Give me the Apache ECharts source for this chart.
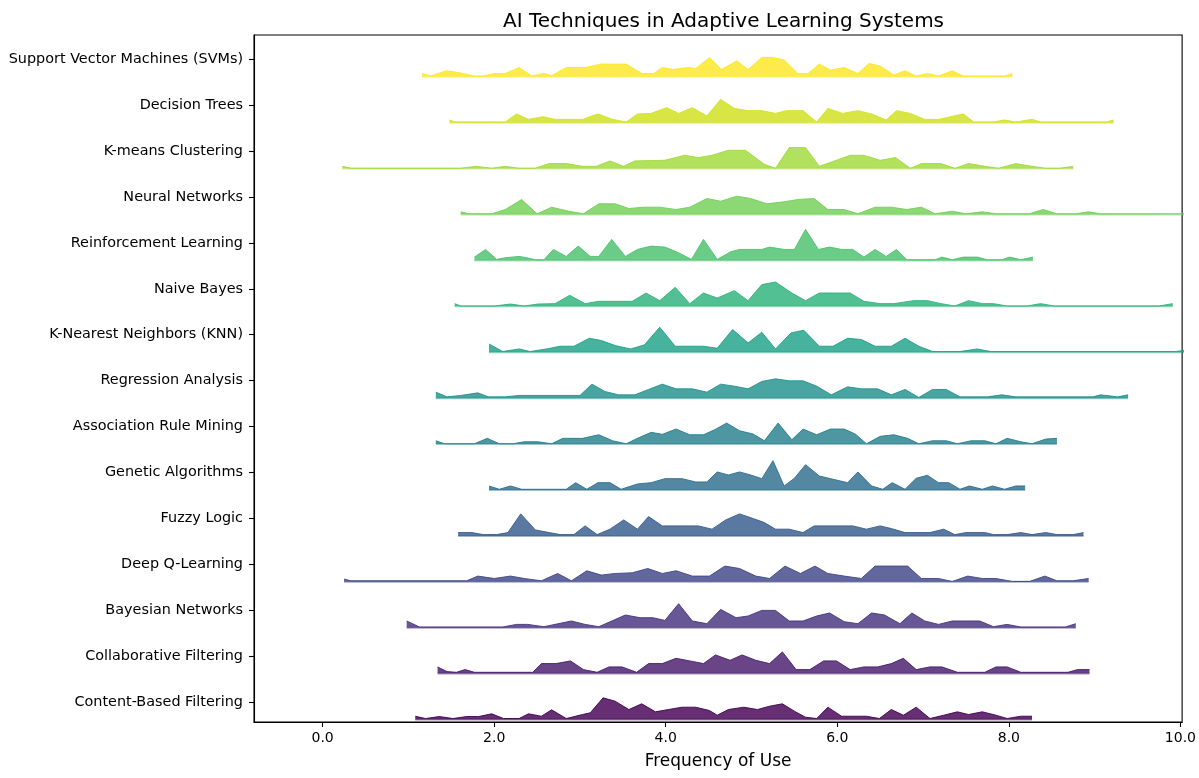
<!DOCTYPE html>
<html>
<head>
<meta charset="utf-8">
<style>html,body{margin:0;padding:0;background:#fff}#c{width:1199px;height:778px}</style>
<script src="https://cdn.jsdelivr.net/npm/echarts@6/dist/echarts.min.js"></script>
</head>
<body>
<div id="c"></div>
<script>
// Categories, listed top to bottom as shown
const categories = ["Support Vector Machines (SVMs)","Decision Trees","K-means Clustering","Neural Networks","Reinforcement Learning","Naive Bayes","K-Nearest Neighbors (KNN)","Regression Analysis","Association Rule Mining","Genetic Algorithms","Fuzzy Logic","Deep Q-Learning","Bayesian Networks","Collaborative Filtering","Content-Based Filtering"];
const xTicks = [0, 2, 4, 6, 8, 10];

// [frequency of use, density] per technique
const svm = [[1.16,3.3],[1.26,0.7],[1.44,6],[1.58,4.3],[1.77,0.7],[1.87,0.7],[2.00,3.3],[2.13,3.3],[2.29,9.3],[2.44,0.7],[2.58,3.3],[2.67,1],[2.84,9.3],[3.06,9.3],[3.25,12.7],[3.54,12.7],[3.72,3.3],[3.86,3.3],[3.96,9.3],[4.09,7.3],[4.25,9.3],[4.35,8.3],[4.51,19.3],[4.65,7.3],[4.83,16],[4.96,7.3],[5.12,19.3],[5.25,19.3],[5.38,16.7],[5.54,3.3],[5.66,3.3],[5.79,12.7],[5.92,6.7],[6.08,9.3],[6.24,3.3],[6.37,13.3],[6.50,10.7],[6.66,1.7],[6.79,6],[6.92,0.7],[7.05,3.3],[7.18,0.7],[7.34,6],[7.47,0.7],[7.95,0.7],[8.04,3.3]];
const decisionTrees = [[1.48,2.7],[1.54,0.7],[2.13,0.7],[2.26,8.7],[2.40,3.3],[2.57,6],[2.71,3.3],[3.03,3.3],[3.21,8.7],[3.38,3.3],[3.54,0.7],[3.67,8.7],[3.83,9.3],[4.01,15],[4.15,9.3],[4.31,15],[4.48,6.7],[4.64,23.3],[4.80,14.3],[4.96,12],[5.12,12],[5.28,9.3],[5.41,12],[5.60,12],[5.76,0.7],[5.89,14.3],[6.06,9.3],[6.24,12],[6.40,8.7],[6.57,2.7],[6.69,12],[6.85,9.3],[7.02,3.3],[7.18,3.3],[7.47,8.7],[7.59,0.7],[7.82,0.7],[7.95,2.7],[8.08,0.7],[8.27,3.3],[8.37,0.7],[9.14,0.7],[9.22,2.7]];
const kmeans = [[0.23,2.3],[0.33,0.3],[1.61,0.3],[1.79,2.3],[1.97,0.3],[2.13,2.3],[2.29,0.3],[2.48,0.3],[2.64,5],[2.84,5],[3.03,2.3],[3.19,2.3],[3.35,7.7],[3.51,2.3],[3.64,7.7],[3.99,8.3],[4.22,13.3],[4.38,11],[4.54,13.3],[4.73,18.3],[4.93,18.3],[5.15,4.3],[5.28,0.3],[5.44,21],[5.63,21],[5.79,2.3],[5.99,8.3],[6.15,13.3],[6.31,13.3],[6.50,8.3],[6.68,11],[6.85,0.3],[6.98,5],[7.21,5],[7.37,0.3],[7.53,5],[7.72,2.3],[7.88,0.3],[8.08,5],[8.27,2.3],[8.43,0.3],[8.59,0.3],[8.75,2.3]];
const neuralNetworks = [[1.61,2.7],[1.71,0.7],[1.97,0.7],[2.13,5],[2.32,15],[2.50,0.7],[2.67,7.3],[2.87,3.3],[3.04,0.7],[3.22,10.7],[3.41,10.7],[3.57,6],[3.74,7.3],[3.93,7.3],[4.12,5],[4.28,7.3],[4.48,16],[4.64,13.3],[4.83,18.3],[4.99,16],[5.18,10.7],[5.38,12.7],[5.54,15],[5.73,16],[5.89,5],[6.08,5],[6.24,0.7],[6.44,7.3],[6.63,7.3],[6.81,5],[6.98,7.3],[7.14,0.7],[7.34,3.3],[7.50,0.7],[7.69,2.7],[7.85,0.7],[8.24,0.7],[8.40,5],[8.56,0.7],[8.78,0.7],[8.93,2.7],[9.07,0.7],[10.3,0.7]];
const reinforcement = [[1.77,3.3],[1.90,11],[2.03,1],[2.13,2.7],[2.29,4],[2.38,2.7],[2.48,0.7],[2.58,0.7],[2.69,11],[2.84,4],[2.98,14.3],[3.12,4],[3.22,4],[3.37,21],[3.53,4],[3.67,11],[3.83,14.3],[3.99,13.3],[4.15,7.7],[4.30,1],[4.44,21],[4.60,1],[4.76,8.7],[4.86,11],[5.12,11],[5.21,13.3],[5.38,11],[5.50,11],[5.63,31],[5.78,11],[5.91,13.3],[6.05,11],[6.18,11],[6.31,3.3],[6.44,11],[6.57,4],[6.69,11],[6.81,0.7],[7.14,0.7],[7.22,3.3],[7.34,0.7],[7.47,3.3],[7.63,3.3],[7.75,0.7],[7.92,0.7],[8.01,3.3],[8.14,0.7],[8.28,3.3]];
const naiveBayes = [[1.54,2.7],[1.61,0.3],[2.00,0.3],[2.19,2.3],[2.35,0.3],[2.51,2.3],[2.71,2.7],[2.88,11],[3.06,2.7],[3.22,5],[3.61,5],[3.77,13.3],[3.93,5.7],[4.11,19],[4.28,2.7],[4.44,13.3],[4.60,8.3],[4.80,15.7],[4.96,5.7],[5.12,21.7],[5.28,24.3],[5.47,13.3],[5.63,5.7],[5.79,13.3],[6.15,13.3],[6.31,5],[6.50,2.7],[6.66,2.7],[6.89,5.7],[7.05,5.7],[7.21,2.7],[7.37,0.3],[7.53,5.7],[7.69,2.7],[7.82,2.7],[7.98,0.3],[8.21,0.3],[8.37,2.7],[8.53,0.3],[9.75,0.3],[9.91,2.7]];
const knn = [[1.94,8.3],[2.10,0.7],[2.29,3.3],[2.42,0.7],[2.61,3.3],[2.77,6],[2.93,6],[3.11,14],[3.25,11.7],[3.41,6.7],[3.59,3.3],[3.75,7.3],[3.93,25],[4.11,6],[4.44,6],[4.60,4],[4.78,22.7],[4.96,9.3],[5.12,20],[5.28,3.3],[5.46,19.3],[5.61,22],[5.79,6],[5.95,6],[6.12,14],[6.28,12.7],[6.44,6],[6.63,6],[6.79,14],[6.95,6],[7.11,0.7],[7.43,0.7],[7.63,3.3],[7.79,0.7],[9.95,0.7],[10.05,2]];
const regression = [[1.32,6],[1.45,1.3],[1.61,2.7],[1.81,5.3],[1.93,1.3],[2.13,1.3],[2.29,2.7],[3.00,2.7],[3.14,14],[3.29,6.7],[3.45,3.3],[3.64,3.3],[3.80,8.7],[3.96,14],[4.12,9.3],[4.31,9.3],[4.48,6],[4.64,14],[4.80,12],[4.96,9.3],[5.12,16.7],[5.28,19.3],[5.44,17.3],[5.60,17.3],[5.76,12],[5.93,3.3],[6.12,11.3],[6.28,9.3],[6.47,9.3],[6.63,3.3],[6.79,8.7],[6.95,0.7],[7.11,8.7],[7.27,8.7],[7.43,1.3],[7.75,1.3],[7.92,3.3],[8.08,1.3],[8.98,1.3],[9.07,3.3],[9.27,1.3],[9.39,3.3]];
const associationRules = [[1.32,3.3],[1.42,0.3],[1.77,0.3],[1.92,5.7],[2.06,0.3],[2.22,0.3],[2.35,2.3],[2.51,2.3],[2.67,0.3],[2.80,5.7],[3.03,5.7],[3.22,9.3],[3.38,3.3],[3.54,0.3],[3.67,5.7],[3.83,11.7],[3.96,9.7],[4.12,15],[4.28,9.3],[4.44,9.3],[4.57,14.3],[4.71,21],[4.86,13.3],[5.02,10],[5.15,3.3],[5.31,21],[5.47,4.3],[5.60,15],[5.76,9.3],[5.92,15],[6.08,15],[6.21,10],[6.34,0.3],[6.50,7.7],[6.66,9.3],[6.82,5.7],[6.95,0.3],[7.11,3.3],[7.27,3.3],[7.40,0.3],[7.56,3.3],[7.72,3.3],[7.85,0.3],[7.98,5.7],[8.14,2.3],[8.27,0.3],[8.43,5],[8.56,5.7]];
const genetic = [[1.94,4],[2.06,0.7],[2.19,4],[2.32,0.7],[2.84,0.7],[2.95,7.3],[3.08,0.7],[3.21,7.3],[3.35,7.3],[3.48,0.7],[3.67,6],[3.83,7.3],[3.99,11.3],[4.19,11.3],[4.35,8],[4.48,8],[4.60,18],[4.73,15],[4.86,18],[4.99,15],[5.12,11.3],[5.25,29.3],[5.38,4],[5.50,11.7],[5.63,25.3],[5.79,14],[5.95,10.7],[6.12,7.3],[6.24,18],[6.40,4],[6.53,0.7],[6.64,7.3],[6.79,0.7],[6.92,11.7],[7.05,14.7],[7.18,7.3],[7.30,7.3],[7.43,0.7],[7.54,4],[7.69,0.7],[7.81,4],[7.95,0.7],[8.08,4],[8.19,4]];
const fuzzy = [[1.58,3.3],[1.74,3.3],[1.87,1.3],[2.03,1.3],[2.16,3.3],[2.31,22],[2.48,6],[2.64,3.3],[2.77,1.3],[2.93,1.3],[3.06,10],[3.20,1.3],[3.35,6.7],[3.51,16],[3.67,6.7],[3.80,19.3],[3.96,10],[4.12,10],[4.38,10],[4.54,6.7],[4.70,16],[4.86,22],[5.02,17.3],[5.15,13.3],[5.28,6.7],[5.44,6.7],[5.60,3.3],[5.73,10],[6.18,10],[6.34,6.7],[6.50,10],[6.63,7.3],[6.79,3.3],[7.08,3.3],[7.24,6.7],[7.37,1.3],[7.50,3.3],[7.72,3.3],[7.82,1.3],[7.98,1.3],[8.14,3.3],[8.27,1.3],[8.43,3.3],[8.56,1.3],[8.75,1.3],[8.87,3.3]];
const deepQ = [[0.25,2.7],[0.33,1],[1.68,1],[1.81,5.7],[2.00,3.3],[2.19,5.7],[2.35,3.3],[2.55,1],[2.74,8.3],[2.90,1],[3.08,11],[3.25,6.7],[3.41,8.3],[3.61,9],[3.79,13.3],[3.96,8.3],[4.12,11],[4.31,5.7],[4.51,5.7],[4.69,15.7],[4.86,13.3],[5.05,5.7],[5.21,3.3],[5.39,15.7],[5.57,8.3],[5.74,15.7],[5.89,8.3],[6.08,5.7],[6.28,3.3],[6.44,15.7],[6.82,15.7],[6.98,3.3],[7.18,3.3],[7.34,0.3],[7.52,5.7],[7.69,3.3],[7.85,3.3],[8.04,0.3],[8.24,0.3],[8.42,5.7],[8.56,1],[8.75,1],[8.93,3.3]];
const bayesian = [[0.98,6.7],[1.13,0.7],[2.10,0.7],[2.26,3.3],[2.39,3.3],[2.58,1],[2.90,6.7],[3.06,3.3],[3.22,1],[3.53,12.7],[3.70,10],[3.85,10],[3.99,7.3],[4.15,24],[4.31,6.7],[4.48,4],[4.64,18.3],[4.82,10],[4.96,11.7],[5.12,17.3],[5.28,17.3],[5.44,6.7],[5.60,6.7],[5.76,11.7],[5.91,14.7],[6.08,6],[6.24,4],[6.40,14.7],[6.55,12.7],[6.73,4],[6.87,14.7],[7.02,6.7],[7.18,3.3],[7.34,6.7],[7.66,6.7],[7.82,1],[7.98,3.3],[8.14,0.7],[8.66,0.7],[8.78,4]];
const collaborative = [[1.34,6.7],[1.45,2],[1.56,1.3],[1.66,4],[1.77,1.3],[2.45,1.3],[2.55,10],[2.72,10],[2.89,12.7],[3.04,4],[3.20,1.3],[3.34,6.7],[3.49,6.7],[3.66,1.3],[3.80,10],[3.96,10],[4.12,15.3],[4.28,12.7],[4.44,10],[4.58,18.7],[4.75,13.3],[4.89,18.7],[5.05,13.3],[5.21,10],[5.36,21.7],[5.52,4],[5.68,4],[5.84,12.7],[5.99,12.7],[6.15,4],[6.31,6.7],[6.47,6.7],[6.63,10],[6.77,15.3],[6.92,4],[7.08,6.7],[7.22,6.7],[7.40,1.3],[7.72,1.3],[7.85,6.7],[7.98,6.7],[8.14,1.3],[8.69,1.3],[8.80,4],[8.94,4]];
const contentBased = [[1.08,3.3],[1.20,1],[1.36,3],[1.52,1],[1.68,3],[1.82,3],[1.97,5.7],[2.11,1],[2.29,1],[2.40,5.7],[2.55,3.3],[2.67,9.7],[2.84,1],[3.03,5],[3.12,6.7],[3.27,21.7],[3.41,18.3],[3.57,10],[3.72,15.7],[3.88,7.7],[4.03,10],[4.19,12.3],[4.35,12.3],[4.51,9],[4.60,4.3],[4.73,10],[4.91,12.3],[5.07,10],[5.21,13.3],[5.36,15.7],[5.50,8.3],[5.63,2.3],[5.76,1],[5.89,12.3],[6.05,3.3],[6.34,3.3],[6.49,1],[6.63,10],[6.77,4.3],[6.92,12.3],[7.08,1],[7.24,4.3],[7.40,7.7],[7.53,5],[7.69,7.7],[7.85,4.3],[7.98,1],[8.14,3.3],[8.27,3.3]];

const ridges = [svm, decisionTrees, kmeans, neuralNetworks, reinforcement, naiveBayes, knn, regression, associationRules, genetic, fuzzy, deepQ, bayesian, collaborative, contentBased];

// styling
const viridis = ['#440154','#481b6d','#46327e','#3f4788','#365c8d','#2e6e8e','#277f8e','#21918c','#1fa187','#2db27d','#4ac16d','#71cf57','#a0da39','#d0e11c','#fde725'];
const SCALE = 1 / 45.9;      // density -> row height
const LABEL_OFFSET = 0.381;  // label position above each ridge baseline
const FONT = 'DejaVu Sans';
const N = categories.length;
const GRID = { left: 254, right: 16, top: 35, bottom: 56 };
const W = 1199;

const tickVals = categories.map((_, i) => (N - 1 - i) + LABEL_OFFSET);

const series = [];
ridges.forEach((pts, i) => {
  const k = N - 1 - i;
  const c = viridis[k];
  // baseline under each ridge
  series.push({
    type: 'line', symbol: 'none', silent: true, z: 2,
    data: [[pts[0][0], k], [pts[pts.length - 1][0], k]],
    lineStyle: { color: c, width: 2, opacity: 0.45 }
  });
  // ridge filled down to its baseline
  series.push({
    type: 'line', symbol: 'none', silent: true, z: 3,
    name: categories[i],
    data: pts.map(p => [p[0], k + p[1] * SCALE]),
    lineStyle: { color: c, width: 1, opacity: 0.9 },
    areaStyle: { color: c, opacity: 0.82, origin: k }
  });
});

const chart = echarts.init(document.getElementById('c'), null, { renderer: 'canvas' });
chart.setOption({
  animation: false,
  backgroundColor: '#fff',
  title: {
    text: 'AI Techniques in Adaptive Learning Systems',
    left: GRID.left + (W - GRID.left - GRID.right) / 2, textAlign: 'center', top: 7,
    textStyle: { fontFamily: FONT, fontSize: 20, fontWeight: 'normal', color: '#000' }
  },
  grid: Object.assign({ show: true, borderColor: '#000', borderWidth: 1.1, backgroundColor: 'transparent' }, GRID),
  xAxis: {
    type: 'value', min: -0.8, max: 10.02,
    name: 'Frequency of Use', nameLocation: 'middle', nameGap: 31,
    nameTextStyle: { fontFamily: FONT, fontSize: 17, color: '#000' },
    axisLine: { show: true, onZero: false, lineStyle: { color: '#000', width: 1.1 } },
    axisTick: { show: true, customValues: xTicks, length: 5, lineStyle: { color: '#000', width: 1.1 } },
    axisLabel: { customValues: xTicks, formatter: v => Number(v).toFixed(1), fontFamily: FONT, fontSize: 14, color: '#000', margin: 9 },
    splitLine: { show: false }
  },
  yAxis: {
    type: 'value', min: -0.054, max: 14.91,
    axisLine: { show: true, onZero: false, lineStyle: { color: '#000', width: 1.1 } },
    axisTick: { show: true, customValues: tickVals, length: 5, lineStyle: { color: '#000', width: 1.1 } },
    axisLabel: {
      customValues: tickVals,
      formatter: v => categories[N - 1 - Math.round(v - LABEL_OFFSET)] || '',
      fontFamily: FONT, fontSize: 14.4, color: '#000', margin: 11
    },
    splitLine: { show: false }
  },
  series: series
});
</script>
</body>
</html>
